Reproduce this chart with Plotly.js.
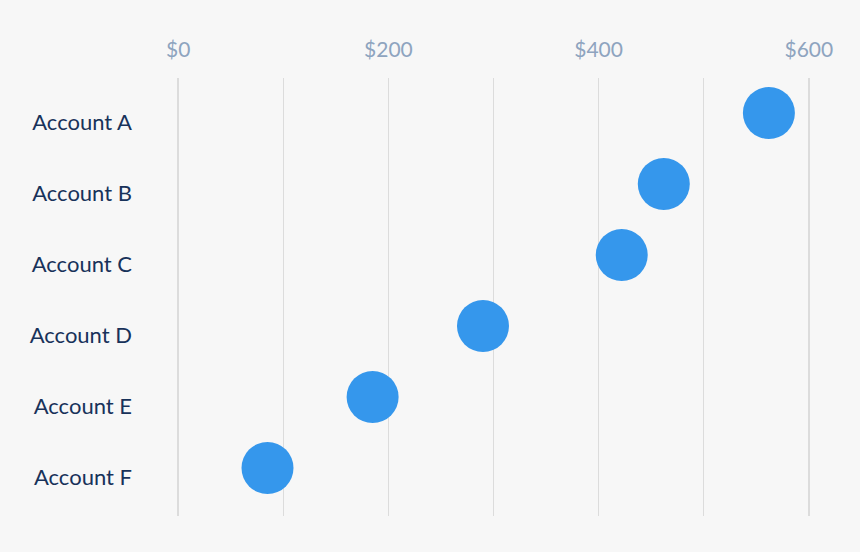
<!DOCTYPE html>
<html>
<head>
<meta charset="utf-8">
<script src="https://cdn.plot.ly/plotly-3.0.1.min.js"></script>
<style>
  html, body { margin: 0; padding: 0; background: #f7f7f7; }
  #chart { width: 860px; height: 552px; }
</style>
</head>
<body>
<div id="chart"></div>
<script>
const accounts = ["Account A", "Account B", "Account C", "Account D", "Account E", "Account F"];
const amounts = [562, 462, 422, 290, 185, 85];
const tickValues = [0, 100, 200, 300, 400, 500, 600];
const tickLabels = ["$0", "", "$200", "", "$400", "", "$600"];

const trace = {
  type: "scatter",
  mode: "markers",
  x: amounts,
  y: accounts,
  marker: { size: 52, color: "#3597ec", line: { width: 0 } },
  hoverinfo: "x+y"
};

const layout = {
  width: 860,
  height: 552,
  paper_bgcolor: "#f7f7f7",
  plot_bgcolor: "#f7f7f7",
  margin: { l: 175, r: 48, t: 78, b: 36 },
  showlegend: false,
  font: { family: "Lato, 'Open Sans', sans-serif" },
  xaxis: {
    side: "top",
    range: [-3, 603],
    tickmode: "array",
    tickvals: tickValues,
    ticktext: tickLabels,
    showgrid: true,
    gridcolor: "#dcdcdc",
    gridwidth: 1.5,
    zeroline: false,
    showline: false,
    ticks: "",
    ticklabelstandoff: 16,
    tickfont: { size: 21, color: "#8ea4bf" },
    fixedrange: true
  },
  yaxis: {
    type: "category",
    categoryorder: "array",
    categoryarray: accounts,
    range: [5.676, -0.493],
    showgrid: false,
    zeroline: false,
    showline: false,
    ticks: "",
    ticklabelstandoff: 42,
    ticklabelshift: -9,
    tickfont: { size: 22, color: "#18325a" },
    fixedrange: true
  }
};

Plotly.newPlot("chart", [trace], layout, { displayModeBar: false, staticPlot: true });
</script>
</body>
</html>
